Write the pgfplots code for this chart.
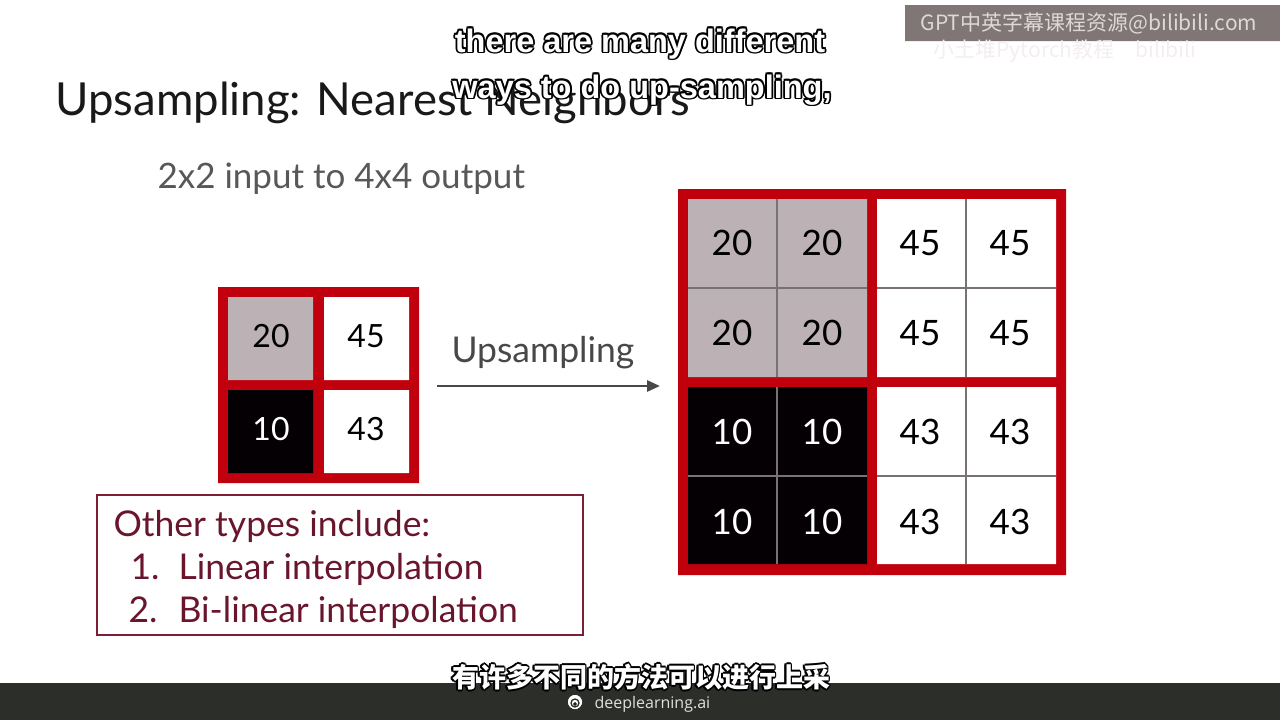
\documentclass[border=0pt]{standalone}
\usepackage{pgfplots}
\pgfplotsset{compat=1.18}
\usetikzlibrary{arrows.meta}
\usepackage{fontspec}
\setmainfont{Lato}
\newfontfamily\subf{Liberation Sans}
\newfontfamily\cjk{Noto Sans CJK SC}
\newfontfamily\osans{Open Sans}

\definecolor{slidered}{RGB}{192,0,12}
\definecolor{cellgray}{RGB}{188,177,180}
\definecolor{cellblack}{RGB}{5,0,3}
\definecolor{gridline}{RGB}{120,114,114}
\definecolor{boxtext}{RGB}{105,22,45}
\definecolor{boxline}{RGB}{125,30,50}
\definecolor{titlec}{RGB}{25,25,25}
\definecolor{subc}{RGB}{88,88,88}
\definecolor{upc}{RGB}{72,72,72}
\definecolor{barc}{RGB}{44,46,42}
\definecolor{wmbar}{RGB}{128,118,118}
\definecolor{wmtext}{RGB}{222,216,216}
\definecolor{wmfaint}{RGB}{244,238,240}

\newcommand\outl[1]{%
 \rlap{\color{black}\kern-1.8pt#1}%
 \rlap{\color{black}\kern1.8pt#1}%
 \rlap{\color{black}\raisebox{1.8pt}{#1}}%
 \rlap{\color{black}\raisebox{-1.8pt}{#1}}%
 \rlap{\color{black}\kern-1.3pt\raisebox{1.3pt}{#1}}%
 \rlap{\color{black}\kern1.3pt\raisebox{1.3pt}{#1}}%
 \rlap{\color{black}\kern-1.3pt\raisebox{-1.3pt}{#1}}%
 \rlap{\color{black}\kern1.3pt\raisebox{-1.3pt}{#1}}%
 {\color{white}#1}}

\newcommand\rect[5]{\addplot[fill=#5,draw=none] coordinates {(#1,#2) (#3,#2) (#3,#4) (#1,#4) (#1,#2)};}

\begin{document}
\begin{tikzpicture}
\begin{axis}[
  width=1280pt, height=720pt, scale only axis,
  xmin=0, xmax=1280, ymin=0, ymax=720, y dir=reverse,
  hide axis, clip=false,
  every node/.style={inner sep=0pt},
]
% background
\rect{0}{0}{1280}{720}{white}
% bottom bar
\rect{0}{683}{1280}{720}{barc}
% watermark bar
\rect{905}{5}{1280}{41}{wmbar}

% ---- small 2x2 grid ----
\rect{218}{287}{419}{483}{slidered}
\rect{228}{297}{313}{380}{cellgray}
\rect{324}{297}{409}{380}{white}
\rect{228}{390}{313}{473}{cellblack}
\rect{324}{390}{409}{473}{white}

% ---- big 4x4 grid ----
\rect{678}{189}{1066}{575}{slidered}
\rect{688}{199}{867}{377}{cellgray}
\rect{877}{199}{1056}{377}{white}
\rect{688}{387}{867}{564}{cellblack}
\rect{877}{387}{1056}{564}{white}
% inner grey dividers
\addplot[draw=gridline, line width=1.8pt] coordinates {(777,199) (777,377)};
\addplot[draw=gridline, line width=1.8pt] coordinates {(688,288) (867,288)};
\addplot[draw=gridline, line width=1.8pt] coordinates {(966,199) (966,377)};
\addplot[draw=gridline, line width=1.8pt] coordinates {(877,288) (1056,288)};
\addplot[draw=gridline, line width=1.8pt] coordinates {(777,387) (777,564)};
\addplot[draw=gridline, line width=1.8pt] coordinates {(688,476) (867,476)};
\addplot[draw=gridline, line width=1.8pt] coordinates {(966,387) (966,564)};
\addplot[draw=gridline, line width=1.8pt] coordinates {(877,476) (1056,476)};

% arrow
\addplot[draw=upc, line width=2.8pt, -{Triangle[length=13pt,width=11pt]}] coordinates {(437,386) (660,386)};

% other-types box
\addplot[draw=boxline, line width=2.4pt] coordinates {(97,495) (583,495) (583,635) (97,635) (97,495) (583,495)};

% logo icon
\addplot[only marks, mark=*, mark size=7.5pt, mark options={fill=white, draw=none}] coordinates {(575,702)};
\addplot[only marks, mark=o, mark size=4pt, mark options={draw=barc, line width=1.3pt}] coordinates {(575,703)};
\addplot[only marks, mark=*, mark size=1.6pt, mark options={fill=barc, draw=none}] coordinates {(575,704)};

% ---- texts ----
\node[anchor=base west, font=\fontsize{45.5}{54}\selectfont, text=titlec] at (axis cs:52,115) {Upsampling: Nearest Neighbors};
\node[anchor=base west, font=\fontsize{35}{42}\selectfont, text=subc] at (axis cs:154,188) {2x2 input to 4x4 output};
\node[anchor=base west, font=\fontsize{35.5}{42}\selectfont, text=upc] at (axis cs:448,362) {Upsampling};

% small grid numbers
\node[font=\fontsize{32}{38}\selectfont, text=black] at (axis cs:271,336) {20};
\node[font=\fontsize{32}{38}\selectfont, text=black] at (axis cs:366,336) {45};
\node[font=\fontsize{32}{38}\selectfont, text=white] at (axis cs:271,429) {10};
\node[font=\fontsize{32}{38}\selectfont, text=black] at (axis cs:366,429) {43};

% big grid numbers
\node[font=\fontsize{35}{42}\selectfont, text=black] at (axis cs:732,243) {20};
\node[font=\fontsize{35}{42}\selectfont, text=black] at (axis cs:822,243) {20};
\node[font=\fontsize{35}{42}\selectfont, text=black] at (axis cs:920,243) {45};
\node[font=\fontsize{35}{42}\selectfont, text=black] at (axis cs:1010,243) {45};
\node[font=\fontsize{35}{42}\selectfont, text=black] at (axis cs:732,333) {20};
\node[font=\fontsize{35}{42}\selectfont, text=black] at (axis cs:822,333) {20};
\node[font=\fontsize{35}{42}\selectfont, text=black] at (axis cs:920,333) {45};
\node[font=\fontsize{35}{42}\selectfont, text=black] at (axis cs:1010,333) {45};
\node[font=\fontsize{35}{42}\selectfont, text=white] at (axis cs:732,432) {10};
\node[font=\fontsize{35}{42}\selectfont, text=white] at (axis cs:822,432) {10};
\node[font=\fontsize{35}{42}\selectfont, text=black] at (axis cs:920,432) {43};
\node[font=\fontsize{35}{42}\selectfont, text=black] at (axis cs:1010,432) {43};
\node[font=\fontsize{35}{42}\selectfont, text=white] at (axis cs:732,522) {10};
\node[font=\fontsize{35}{42}\selectfont, text=white] at (axis cs:822,522) {10};
\node[font=\fontsize{35}{42}\selectfont, text=black] at (axis cs:920,522) {43};
\node[font=\fontsize{35}{42}\selectfont, text=black] at (axis cs:1010,522) {43};

% box text
\node[anchor=base west, font=\fontsize{35.5}{42}\selectfont, text=boxtext] at (axis cs:110,536) {Other types include:};
\node[anchor=base west, font=\fontsize{35.5}{42}\selectfont, text=boxtext] at (axis cs:127,579) {1.};
\node[anchor=base west, font=\fontsize{35.5}{42}\selectfont, text=boxtext] at (axis cs:175,579) {Linear interpolation};
\node[anchor=base west, font=\fontsize{35.5}{42}\selectfont, text=boxtext] at (axis cs:125,622) {2.};
\node[anchor=base west, font=\fontsize{35.5}{42}\selectfont, text=boxtext] at (axis cs:175,622) {Bi-linear interpolation};

% subtitles (video captions)
\node[anchor=base, font=\subf\bfseries\fontsize{32.5}{38}\selectfont] at (axis cs:640,52) {\outl{there are many different}};
\node[anchor=base, font=\subf\bfseries\fontsize{32.5}{38}\selectfont] at (axis cs:642,98) {\outl{ways to do up-sampling,}};
\node[anchor=center, font=\cjk\bfseries\fontsize{27}{32}\selectfont] at (axis cs:641,677) {\outl{有许多不同的方法可以进行上采}};

% footer logo text
\node[anchor=base west, font=\osans\fontsize{16}{19}\selectfont, text=white!88!black] at (axis cs:591,708) {deeplearning.ai};

% watermark
\node[anchor=center, font=\cjk\fontsize{21}{25}\selectfont, text=wmtext] at (axis cs:1089,23) {GPT中英字幕课程资源@bilibili.com};
\node[anchor=west, font=\cjk\fontsize{21}{25}\selectfont, text=wmfaint] at (axis cs:930,51) {小土堆Pytorch教程\quad bilibili};
\end{axis}
\end{tikzpicture}
\end{document}
